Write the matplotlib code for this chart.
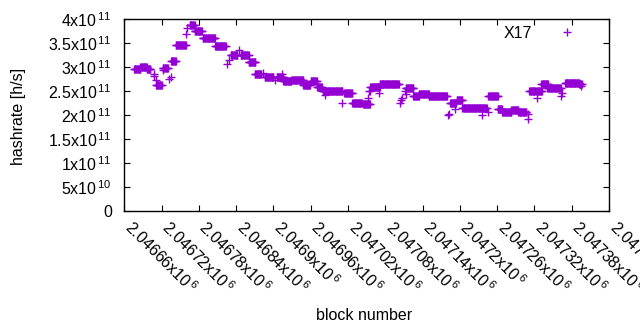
import numpy as np
import matplotlib
matplotlib.use("Agg")
import matplotlib.pyplot as plt
from matplotlib.ticker import FixedLocator, FixedFormatter, NullFormatter
from matplotlib.transforms import ScaledTranslation, blended_transform_factory

plt.rcParams['font.family'] = ['Liberation Sans', 'DejaVu Sans']
plt.rcParams['mathtext.fontset'] = 'custom'
plt.rcParams['mathtext.rm'] = 'Liberation Sans'
plt.rcParams['mathtext.it'] = 'Liberation Sans'
plt.rcParams['mathtext.default'] = 'regular'

# runs of constant hashrate (block start, block end, value in 1e11 h/s)
run_start = [2046676, 2046686, 2046696, 2046711, 2046722, 2046735, 2046743, 2046765,
             2046773, 2046786, 2046806, 2046831, 2046847, 2046860, 2046870, 2046886,
             2046905, 2046916, 2046929, 2046948, 2046960, 2046970, 2046979, 2047014,
             2047027, 2047044, 2047056, 2047071, 2047113, 2047125, 2047134, 2047150,
             2047184, 2047195, 2047204, 2047246, 2047261, 2047268, 2047283, 2047294,
             2047312, 2047324, 2047331, 2047341, 2047369, 2047380, 2047392]
run_end = [2046686, 2046696, 2046702, 2046720, 2046730, 2046743, 2046759, 2046773,
           2046785, 2046806, 2046823, 2046842, 2046860, 2046871, 2046880, 2046900,
           2046916, 2046929, 2046948, 2046959, 2046970, 2046978, 2047011, 2047027,
           2047042, 2047055, 2047071, 2047102, 2047125, 2047134, 2047150, 2047179,
           2047193, 2047204, 2047243, 2047261, 2047268, 2047283, 2047294, 2047307,
           2047322, 2047332, 2047342, 2047362, 2047380, 2047392, 2047396]
run_value = [2.95, 2.99, 2.95, 2.62, 2.98, 3.12, 3.45, 3.87,
             3.76, 3.60, 3.43, 3.24, 3.24, 3.10, 2.85, 2.79,
             2.80, 2.70, 2.73, 2.62, 2.71, 2.58, 2.49, 2.45,
             2.24, 2.22, 2.58, 2.64, 2.56, 2.40, 2.44, 2.40,
             2.24, 2.31, 2.15, 2.40, 2.12, 2.07, 2.11, 2.06,
             2.51, 2.50, 2.64, 2.57, 2.66, 2.67, 2.64]

# isolated blocks
iso_block = [2046707, 2046708, 2046711, 2046723, 2046732, 2046735, 2046760, 2046761,
             2046825, 2046828, 2046845, 2046883, 2046902, 2046914, 2046983, 2047011,
             2047052, 2047053, 2047055, 2047070, 2047104, 2047105, 2047107, 2047111,
             2047113, 2047181, 2047182, 2047192, 2047236, 2047245, 2047309, 2047310,
             2047324, 2047363, 2047364, 2047395]
iso_value = [2.85, 2.82, 2.73, 2.94, 2.74, 2.80, 3.69, 3.81,
             3.06, 3.15, 3.36, 2.88, 2.72, 2.86, 2.42, 2.24,
             2.36, 2.50, 2.50, 2.45, 2.26, 2.31, 2.35, 2.50,
             2.44, 2.01, 2.03, 2.12, 2.01, 2.07, 1.92, 2.03,
             2.36, 2.40, 2.45, 2.61]

x_ticks = [2046660 + 60 * i for i in range(14)]
x_labels = ['2.04666', '2.04672', '2.04678', '2.04684', '2.0469', '2.04696', '2.04702',
            '2.04708', '2.04714', '2.0472', '2.04726', '2.04732', '2.04738', '2.04744']
y_ticks = [0, 0.5e11, 1e11, 1.5e11, 2e11, 2.5e11, 3e11, 3.5e11, 4e11]
y_labels = ['0', '5x10', '1x10', '1.5x10', '2x10', '2.5x10', '3x10', '3.5x10', '4x10']
y_exps = ['', '10', '11', '11', '11', '11', '11', '11', '11']

blocks = []
values = []
for s, e, v in zip(run_start, run_end, run_value):
    for b in range(s, e + 1):
        blocks.append(b)
        values.append(v * 1e11)
for b, v in zip(iso_block, iso_value):
    blocks.append(b)
    values.append(v * 1e11)

FS = 11.5
color = '#9400D3'
fig = plt.figure(figsize=(6.4, 3.3), dpi=100)
ax = fig.add_axes([124.3 / 640, 1 - 211 / 330, (609 - 124.3) / 640, (211 - 19) / 330])
ax.plot(blocks, values, linestyle='none', marker='+', markersize=5.4,
        markeredgewidth=1.0, color=color, label='X17')

ax.set_xlim(x_ticks[0], x_ticks[-1])
ax.set_ylim(0, 4e11)
ax.xaxis.set_major_locator(FixedLocator(x_ticks))
ax.xaxis.set_major_formatter(NullFormatter())
ax.yaxis.set_major_locator(FixedLocator(y_ticks))
ax.yaxis.set_major_formatter(FixedFormatter(
    [l + ('$^{\\,' + e + '}$' if e else '') for l, e in zip(y_labels, y_exps)]))

ax.tick_params(direction='in', length=4.5, width=0.8, top=True, right=True,
               labelsize=FS, colors='black')
ax.tick_params(axis='y', pad=9.0)

# rotated x tick labels, anchored at the baseline start just below each tick
trans = blended_transform_factory(ax.transData, ax.transAxes) + \
    ScaledTranslation(-1.0 / 100, -18.0 / 100, fig.dpi_scale_trans)
for xt, lab in zip(x_ticks, x_labels):
    ax.text(xt, 0, lab + 'x10$^{\\,6}$', transform=trans, rotation=-45,
            rotation_mode='anchor', ha='left', va='baseline', fontsize=FS,
            clip_on=False)

for sp in ax.spines.values():
    sp.set_linewidth(1.0)

ax.set_ylabel('hashrate [h/s]', fontsize=FS)
ax.yaxis.set_label_coords(-0.203, 0.492)
ax.set_xlabel('block number', fontsize=FS)
ax.xaxis.set_label_coords(0.4945, -0.505)

leg = ax.legend(loc='upper right', bbox_to_anchor=(0.965, 1.031), frameon=False,
                markerfirst=False, fontsize=FS, handlelength=1.5, handletextpad=1.44,
                borderpad=0.3)
fig.savefig('out.png', dpi=100)
